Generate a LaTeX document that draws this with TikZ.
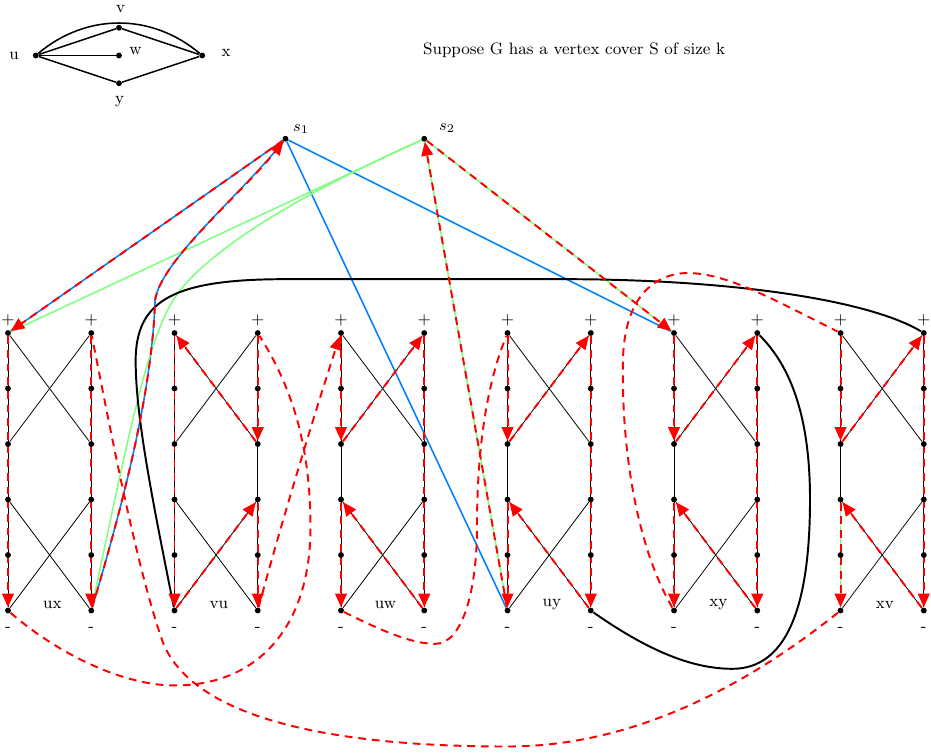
\documentclass[tikz,border=0pt]{standalone}
\usepackage{tikz}
\usetikzlibrary{arrows.meta,backgrounds}
\definecolor{red}{RGB}{255, 0, 0}
\definecolor{linkblue}{RGB}{0, 128, 255}
\definecolor{linkgreen}{RGB}{128, 255, 128}

\begin{document}
\begin{tikzpicture}[
        dot/.style={circle, fill=black, inner sep=0pt, minimum size=3pt},
        lbl/.style={font=\fontsize{8.5pt}{10pt}\selectfont},
        graphedge/.style={black, line width=0.8pt},
        gadgetline/.style={black, line width=0.4pt},
        chain/.style={black, line width=1pt},
        selblue/.style={linkblue, line width=0.8pt},
        selgreen/.style={linkgreen, line width=0.8pt},
        pathedge/.style={red, line width=1pt, dash pattern=on 4pt off 3pt},
        pathto/.style={pathedge, -{Triangle[length=7pt,width=6pt]}}]
        \useasboundingbox (-0.144,-7.6) rectangle (16.63,6.0);

        % The graph G
        \node[dot] (u) at (0.5,5) {};
        \node[dot] (v) at (2,5.5) {};
        \node[dot] (w) at (2,5) {};
        \node[dot] (x) at (3.5,5) {};
        \node[dot] (y) at (2,4.5) {};
        \node[lbl] (u-name) at (0.11,5) {u};
        \node[lbl] (v-name) at (2.03,5.83) {v};
        \node[lbl] (w-name) at (2.3,5.08) {w};
        \node[lbl] (x-name) at (3.93,5.04) {x};
        \node[lbl] (y-name) at (2.01,4.16) {y};
        \draw[graphedge] (u) -- (v) -- (x);
        \draw[graphedge] (u) -- (w);
        \draw[graphedge] (u) -- (y) -- (x);
        \draw[graphedge] (u) to[bend left=40] (x);

        \node[lbl] (claim) at (10.2,5.1) {Suppose G has a vertex cover S of size k};

        % Selector vertices
        \node[dot] (s1) at (5,3.5) {};
        \node[dot] (s2) at (7.5,3.5) {};
        \node[lbl] (s1-name) at (5.28,3.68) {$s_1$};
        \node[lbl] (s2-name) at (7.91,3.69) {$s_2$};

        % Edge gadgets
        \foreach \g [count=\i from 0] in {ux,vu,uw,uy,xy,xv} {
            \foreach \r in {0,...,5} {
                \node[dot] (\g-L\r) at (3*\i,-\r) {};
                \node[dot] (\g-R\r) at (3*\i+1.5,-\r) {};
            }
            \node[lbl] (\g-name) at (3*\i+0.8,-4.9) {\g};
            \node[lbl] (\g-pL) at (3*\i,0.22) {+};
            \node[lbl] (\g-pR) at (3*\i+1.5,0.22) {+};
            \node[lbl] (\g-mL) at (3*\i,-5.34) {-};
            \node[lbl] (\g-mR) at (3*\i+1.5,-5.34) {-};
        }

        \begin{pgfonlayer}{background}
        % Gadget edges
        \foreach \g in {ux,vu,uw,uy,xy,xv} {
            \draw[gadgetline] (\g-L0) -- (\g-L5);
            \draw[gadgetline] (\g-R0) -- (\g-R5);
            \draw[gadgetline] (\g-L0) -- (\g-R2);
            \draw[gadgetline] (\g-R0) -- (\g-L2);
            \draw[gadgetline] (\g-L3) -- (\g-R5);
            \draw[gadgetline] (\g-R3) -- (\g-L5);
        }

        % Selector edges
        \draw[selblue] (s1) -- (ux-L0);
        \draw[selblue] (s1) -- (uy-L5);
        \draw[selblue] (s1) -- (xy-L0);
        \draw[selblue] (ux-R5) .. controls (2.1,-3) and (2.6,-1) .. (2.65,0.59)
            .. controls (2.75,1.3) and (4.2,2.5) .. (s1);
        \draw[selgreen] (s2) -- (ux-L0);
        \draw[selgreen] (s2) -- (uy-L5);
        \draw[selgreen] (s2) -- (xy-L0);
        \draw[selgreen] (ux-R5) .. controls (2.3,-1.2) and (2.6,0.2) .. (3.15,0.83)
            .. controls (3.9,1.7) and (5.5,2.6) .. (s2);
        \draw[selgreen] (xv-L3) -- (xv-L5);

        % Chains of the vertices not in S
        \draw[chain] (vu-L5) .. controls (2.6,-3) and (2.3,-1.5) .. (2.3,-0.5)
            .. controls (2.3,0.6) and (3,0.97) .. (5,0.97) -- (10,0.97)
            .. controls (13,0.97) and (15.5,0.6) .. (xv-R0);
        \draw[chain] (uy-R5) .. controls (11.5,-5.7) and (12.3,-6.05) .. (13.05,-6.05)
            .. controls (14,-6.05) and (14.45,-5) .. (14.45,-3)
            .. controls (14.45,-1.5) and (14.1,-0.6) .. (xy-R0);

        % Hamiltonian cycle
        \draw[pathto] (s1) -- (ux-L0);
        \draw[pathto] (ux-L0) -- (ux-L5);
        \draw[pathto] (ux-R0) -- (ux-R5);
        \draw[pathedge] (ux-L5) .. controls (0.8,-5.7) and (2,-6.35) .. (3,-6.35)
            .. controls (4.5,-6.35) and (5.45,-5.3) .. (5.45,-3.5)
            .. controls (5.45,-1.8) and (5,-0.8) .. (vu-R0);
        \draw[pathto] (vu-R0) -- (vu-R2);
        \draw[pathto] (vu-R2) -- (vu-L0);
        \draw[pathto] (vu-L0) -- (vu-L5);
        \draw[pathto] (vu-L5) -- (vu-R3);
        \draw[pathto] (vu-R3) -- (vu-R5);
        \draw[pathto] (vu-R5) .. controls (4.9,-3.5) and (5.6,-1.2) .. (uw-L0);
        \foreach \g in {uw,uy,xy,xv} {
            \draw[pathto] (\g-L0) -- (\g-L2);
            \draw[pathto] (\g-L2) -- (\g-R0);
            \draw[pathto] (\g-R0) -- (\g-R5);
            \draw[pathto] (\g-R5) -- (\g-L3);
            \draw[pathto] (\g-L3) -- (\g-L5);
        }
        \draw[pathedge] (uw-L5) .. controls (6.8,-5.4) and (7.3,-5.6) .. (7.7,-5.6)
            .. controls (8.2,-5.6) and (8.45,-4.6) .. (8.45,-3.5)
            .. controls (8.45,-1.5) and (8.8,-0.5) .. (uy-L0);
        \draw[pathto] (uy-L5) -- (s2);
        \draw[pathto] (s2) -- (xy-L0);
        \draw[pathedge] (xy-L5) .. controls (11.3,-3.8) and (11.05,-2) .. (11.08,-0.5)
            .. controls (11.1,0.7) and (11.7,1.1) .. (12.3,1.08)
            .. controls (13,1.05) and (13.8,0.6) .. (xv-L0);
        \draw[pathedge] (xv-L5) .. controls (13,-6.6) and (11,-7.45) .. (9,-7.45)
            .. controls (6,-7.45) and (3.4,-7) .. (2.8,-5.6)
            .. controls (2.3,-4.2) and (1.8,-1.5) .. (ux-R0);
        \draw[pathto] (ux-R5) .. controls (2.1,-3) and (2.6,-1) .. (2.65,0.59)
            .. controls (2.75,1.3) and (4.2,2.5) .. (s1);
        \end{pgfonlayer}
\end{tikzpicture}
\end{document}
